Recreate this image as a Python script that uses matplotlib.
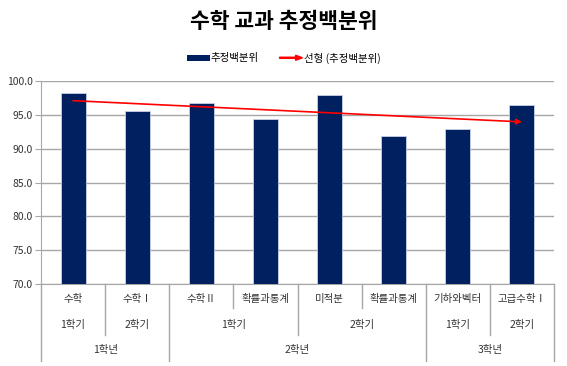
import numpy as np
import matplotlib
matplotlib.use("Agg")
import matplotlib.pyplot as plt
from matplotlib.patches import Patch, FancyArrow
from matplotlib.lines import Line2D
from matplotlib.legend_handler import HandlerBase
import matplotlib.transforms as mtransforms

plt.rcParams['font.family'] = ['Noto Sans CJK KR', 'DejaVu Sans']

# données
matieres  = ["수학", "수학Ⅰ", "수학Ⅱ", "확률과통계", "미적분", "확률과통계", "기하와벡터", "고급수학Ⅰ"]
semestres = ["1학기", "2학기", "1학기", "1학기", "2학기", "2학기", "1학기", "2학기"]
annees    = ["1학년", "1학년", "2학년", "2학년", "2학년", "2학년", "3학년", "3학년"]
centiles  = [98.3, 95.6, 96.8, 94.4, 97.9, 91.8, 92.9, 96.5]

titre      = "수학 교과 추정백분위"
nom_serie  = "추정백분위"
nom_trend  = "선형 (추정백분위)"

navy  = "#002060"
gris  = "#a6a6a6"
texte = "#333333"


class HandlerFleche(HandlerBase):
    def create_artists(self, legend, orig_handle, xdescent, ydescent,
                       width, height, fontsize, trans):
        a = FancyArrow(-xdescent, height / 2 - ydescent, width, 0,
                       width=0.8, head_width=3.6, head_length=5,
                       length_includes_head=True, color="red",
                       transform=trans)
        return [a]


fig = plt.figure(figsize=(5.67, 3.66), dpi=100)
ax = fig.add_axes([41 / 567, 82 / 366, 513 / 567, 203 / 366])

x = np.arange(len(centiles))
ax.bar(x, centiles, width=0.39, color=navy, edgecolor="#c8d0e4", linewidth=0.6, zorder=3)

# courbe de tendance linéaire (régression)
pente, origine = np.polyfit(x, centiles, 1)
y0 = origine + pente * x[0]
y1 = origine + pente * x[-1]
ax.annotate("", xy=(x[-1], y1), xytext=(x[0], y0),
            arrowprops=dict(arrowstyle="-|>", color="red", lw=1.2,
                            mutation_scale=8, shrinkA=0, shrinkB=0),
            zorder=4)

ax.set_xlim(-0.5, len(centiles) - 0.5)
ax.set_ylim(70, 100)
ax.set_yticks(np.arange(70, 100.1, 5))
ax.set_yticklabels([f"{v:.1f}" for v in np.arange(70, 100.1, 5)])
ax.yaxis.grid(True, color=gris, lw=1, zorder=0)
ax.set_axisbelow(True)
ax.tick_params(axis="y", length=4, color=gris, labelsize=7.5, labelcolor=texte, pad=2)
ax.tick_params(axis="x", bottom=False, labelbottom=False)
for s in ["top", "right"]:
    ax.spines[s].set_visible(False)
ax.spines["left"].set_color(gris)
ax.spines["bottom"].set_color(gris)

# ── axe catégoriel à plusieurs niveaux ──────────────────────────────────────
tr = mtransforms.blended_transform_factory(ax.transData, ax.transAxes)
y_row = [-0.074, -0.202, -0.325]
y_sep = [-0.118, -0.251, -0.379]

for i, m in enumerate(matieres):
    ax.text(i, y_row[0], m, transform=tr, ha="center", va="center",
            fontsize=7.5, color=texte)

def groupes(cles):
    debut = 0
    for i in range(1, len(cles) + 1):
        if i == len(cles) or cles[i] != cles[debut]:
            yield debut, i - 1
            debut = i

cles_sem = list(zip(annees, semestres))
for a, b in groupes(cles_sem):
    ax.text((a + b) / 2, y_row[1], semestres[a], transform=tr, ha="center",
            va="center", fontsize=7.5, color=texte)
for a, b in groupes(annees):
    ax.text((a + b) / 2, y_row[2], annees[a], transform=tr, ha="center",
            va="center", fontsize=7.5, color=texte)

for i in range(len(centiles) + 1):
    if i == 0 or i == len(centiles) or annees[i] != annees[i - 1]:
        bas = y_sep[2]
    elif semestres[i] != semestres[i - 1]:
        bas = y_sep[1]
    else:
        bas = y_sep[0]
    ax.plot([i - 0.5, i - 0.5], [0, bas], transform=tr, color=gris, lw=1,
            clip_on=False)

fig.text(0.5, 1 - 22 / 366, titre, ha="center", va="center",
         fontsize=15.5, fontweight="bold")

poignees = [Patch(facecolor=navy, edgecolor="none"),
            Line2D([], [], color="red")]
fig.legend(poignees, [nom_serie, nom_trend], loc="center",
           bbox_to_anchor=(0.5, 1 - 58 / 366), ncol=2, frameon=False,
           fontsize=7.5, handlelength=2.2, handleheight=0.5,
           handletextpad=0.1, columnspacing=2.0,
           handler_map={Line2D: HandlerFleche()})

fig.savefig("out.png", dpi=100)
